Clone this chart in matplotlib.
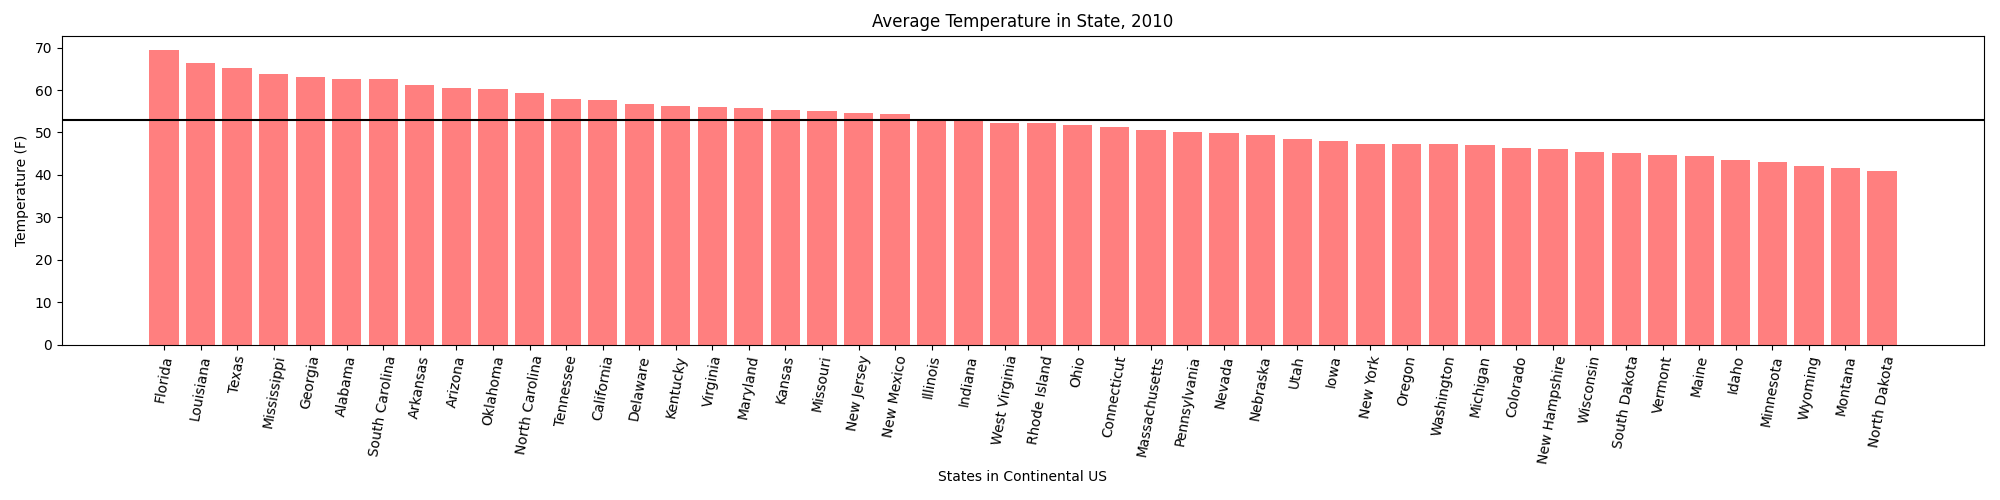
import matplotlib
matplotlib.use("Agg")
import matplotlib.pyplot as plt

states = ["Florida", "Louisiana", "Texas", "Mississippi", "Georgia", "Alabama",
          "South Carolina", "Arkansas", "Arizona", "Oklahoma", "North Carolina",
          "Tennessee", "California", "Delaware", "Kentucky", "Virginia", "Maryland",
          "Kansas", "Missouri", "New Jersey", "New Mexico", "Illinois", "Indiana",
          "West Virginia", "Rhode Island", "Ohio", "Connecticut", "Massachusetts",
          "Pennsylvania", "Nevada", "Nebraska", "Utah", "Iowa", "New York", "Oregon",
          "Washington", "Michigan", "Colorado", "New Hampshire", "Wisconsin",
          "South Dakota", "Vermont", "Maine", "Idaho", "Minnesota", "Wyoming",
          "Montana", "North Dakota"]
temps = [69.4, 66.5, 65.1, 63.7, 63.0, 62.7, 62.7, 61.3, 60.4, 60.3, 59.2,
         58.0, 57.7, 56.8, 56.2, 55.9, 55.8, 55.4, 55.1, 54.7, 54.3, 52.9, 52.8,
         52.2, 52.2, 51.7, 51.4, 50.5, 50.0, 49.9, 49.3, 48.4, 48.1, 47.2, 47.2,
         47.2, 47.1, 46.3, 46.0, 45.5, 45.1, 44.8, 44.5, 43.4, 43.0, 42.1,
         41.6, 40.9]
avg_temp = 52.9

fig, ax = plt.subplots(figsize=(20, 5), dpi=100)
fig.subplots_adjust(left=0.031, right=0.992, top=0.929, bottom=0.311)
ax.bar(states, temps, color="red", alpha=0.5)
ax.axhline(avg_temp, color="black")
ax.set_title("Average Temperature in State, 2010")
ax.set_xlabel("States in Continental US")
ax.set_ylabel("Temperature (F)")
plt.xticks(rotation=80)
fig.savefig("out.png")
